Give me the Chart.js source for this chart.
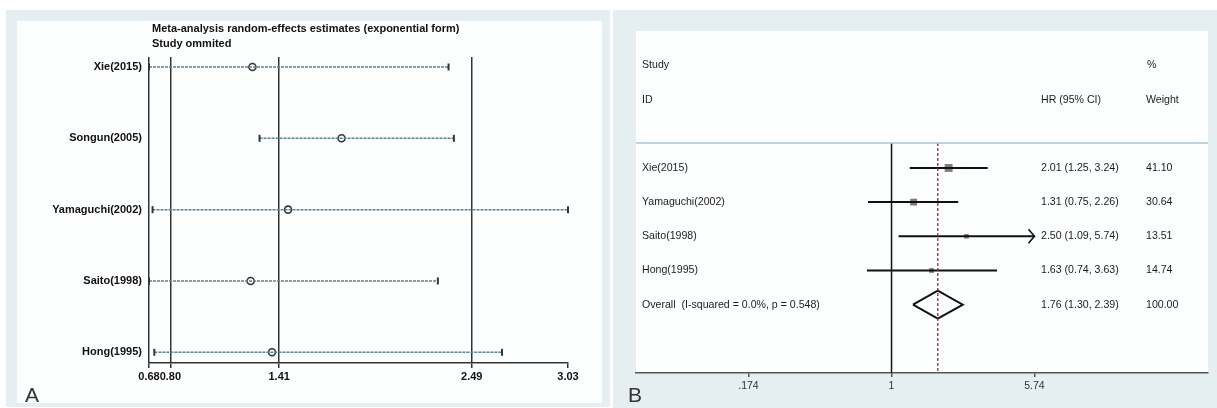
<!DOCTYPE html>
<html>
<head>
<meta charset="utf-8">
<script src="https://cdn.jsdelivr.net/npm/chart.js@4.4.0/dist/chart.umd.min.js"></script>
<style>
  html, body { margin: 0; padding: 0; background: #fff; }
  body { width: 1217px; height: 408px; position: relative; overflow: hidden; }
  .frame { position: absolute; background: #e5eff2; }
  .inner { position: absolute; background: #fdfefe; }
  canvas { position: absolute; top: 0; }
</style>
</head>
<body>
<div class="frame" style="left:6px;top:10px;width:604px;height:397px"></div>
<div class="inner" style="left:17px;top:21px;width:585px;height:382px"></div>
<div class="frame" style="left:613px;top:10px;width:604px;height:398px"></div>
<div class="inner" style="left:636px;top:31px;width:572px;height:342px"></div>
<canvas id="chartA" width="610" height="408" style="left:0"></canvas>
<canvas id="chartB" width="604" height="408" style="left:613px"></canvas>
<script>
// ---- panel A : leave-one-out (study omitted) ----
const omitStudies = ['Xie(2015)', 'Songun(2005)', 'Yamaguchi(2002)', 'Saito(1998)', 'Hong(1995)'];
const omitEst = [1.26, 1.76, 1.46, 1.25, 1.37];
const omitLow = [0.68, 1.30, 0.70, 0.68, 0.71];
const omitHigh = [2.36, 2.39, 3.03, 2.30, 2.66];
const omitTicks = [0.68, 0.80, 1.41, 2.49, 3.03];
const omitTitle = ['Meta-analysis random-effects estimates (exponential form)', 'Study ommited'];

// ---- panel B : forest plot ----
const studies = ['Xie(2015)', 'Yamaguchi(2002)', 'Saito(1998)', 'Hong(1995)'];
const hr = [2.01, 1.31, 2.50, 1.63];
const hrLow = [1.25, 0.75, 1.09, 0.74];
const hrHigh = [3.24, 2.26, 5.74, 3.63];
const weights = [41.10, 30.64, 13.51, 14.74];
const overallLabel = 'Overall  (I-squared = 0.0%, p = 0.548)';
const overallHR = 1.76;
const overallLow = 1.30;
const overallHigh = 2.39;
const forestTicks = [0.174, 1, 5.74];
const forestTickLabels = ['.174', '1', '5.74'];

const FONT = 'Arial, "Liberation Sans", sans-serif';
Chart.defaults.font.family = FONT;
Chart.defaults.color = '#111';

function fmt(v) { return v.toFixed(2); }

// ---------- chart A ----------
const dotColor = '#5f8193';
const dsA = [];
omitStudies.forEach((s, i) => {
  dsA.push({
    data: [{ x: omitLow[i], y: i + 1 }, { x: omitHigh[i], y: i + 1 }],
    showLine: true,
    borderColor: dotColor,
    borderWidth: 1.5,
    borderDash: [3, 1],
    pointStyle: 'line',
    rotation: 90,
    pointRadius: 3.5,
    pointBorderColor: '#333',
    pointBorderWidth: 2
  });
});
dsA.push({
  data: omitEst.map((v, i) => ({ x: v, y: i + 1 })),
  pointStyle: 'circle',
  pointRadius: 3.5,
  pointBorderWidth: 1.6,
  pointBorderColor: '#333',
  pointBackgroundColor: '#fff'
});

const titleA = {
  id: 'titleA',
  afterDraw(chart) {
    const c = chart.ctx;
    c.save();
    c.fillStyle = '#111';
    c.font = 'bold 11px ' + FONT;
    c.textBaseline = 'middle';
    c.fillText(omitTitle[0], chart.chartArea.left + 3, 29);
    c.fillText(omitTitle[1], chart.chartArea.left + 3, 44);
    c.fillStyle = '#333';
    c.font = '21px ' + FONT;
    c.textBaseline = 'alphabetic';
    c.fillText('A', 25, 402);
    c.restore();
  }
};

new Chart(document.getElementById('chartA'), {
  type: 'scatter',
  data: { datasets: dsA },
  options: {
    responsive: false,
    animation: false,
    clip: false,
    layout: { padding: { top: 57, right: 42, left: 0, bottom: 0 } },
    plugins: { legend: { display: false }, tooltip: { enabled: false } },
    scales: {
      x: {
        type: 'linear',
        min: omitTicks[0],
        max: omitTicks[omitTicks.length - 1],
        afterBuildTicks: s => { s.ticks = omitTicks.map(v => ({ value: v })); },
        afterFit: s => { s.height = 45; },
        border: { display: true, color: '#333', width: 1.5 },
        grid: {
          drawOnChartArea: true,
          color: ctx => (ctx.tick && ctx.tick.value === omitTicks[omitTicks.length - 1]) ? 'rgba(0,0,0,0)' : '#333',
          lineWidth: 1.5,
          tickLength: 5,
          tickColor: '#333'
        },
        ticks: {
          autoSkip: false,
          maxRotation: 0,
          padding: 2,
          font: { size: 11, weight: 'bold' },
          callback: v => fmt(v)
        }
      },
      y: {
        type: 'linear',
        reverse: true,
        min: 0.86,
        max: 5.15,
        afterBuildTicks: s => { s.ticks = omitStudies.map((_, i) => ({ value: i + 1 })); },
        afterFit: s => { s.width = 149; },
        border: { display: false },
        grid: { display: false, drawTicks: false },
        ticks: {
          padding: 7,
          font: { size: 11, weight: 'bold' },
          callback: v => omitStudies[v - 1]
        }
      }
    }
  },
  plugins: [titleA]
});

// ---------- chart B ----------
const yMinB = 0.27, yMaxB = 7.0;
const dsB = [];
// null line at 1
dsB.push({
  data: [{ x: 1, y: yMinB }, { x: 1, y: yMaxB }],
  showLine: true, borderColor: '#111', borderWidth: 1.5, pointRadius: 0
});
// overall dashed line
dsB.push({
  data: [{ x: overallHR, y: yMinB }, { x: overallHR, y: yMaxB }],
  showLine: true, borderColor: '#9b2b2b', borderWidth: 1.3, borderDash: [3, 2], pointRadius: 0
});
studies.forEach((s, i) => {
  dsB.push({
    data: [{ x: hrLow[i], y: i + 1 }, { x: hrHigh[i], y: i + 1 }],
    showLine: true, borderColor: '#111', borderWidth: 2, pointRadius: 0
  });
});
// weight boxes
dsB.push({
  data: hr.map((v, i) => ({ x: v, y: i + 1 })),
  pointStyle: 'rect',
  pointRadius: weights.map(w => 5.6 * Math.sqrt(w / weights[0])),
  pointBackgroundColor: '#7e7e7e',
  pointBorderWidth: 0
});
// point estimates
dsB.push({
  data: hr.map((v, i) => ({ x: v, y: i + 1 })),
  pointStyle: 'rect', pointRadius: 2, pointBackgroundColor: '#111', pointBorderWidth: 0
});
// overall diamond
const oRow = studies.length + 1;
dsB.push({
  data: [
    { x: overallLow, y: oRow }, { x: overallHR, y: oRow - 0.41 },
    { x: overallHigh, y: oRow }, { x: overallHR, y: oRow + 0.41 },
    { x: overallLow, y: oRow }
  ],
  showLine: true, borderColor: '#111', borderWidth: 2, pointRadius: 0, borderJoinStyle: 'miter'
});

const textB = {
  id: 'textB',
  afterDraw(chart) {
    const c = chart.ctx;
    const xs = chart.scales.x, ys = chart.scales.y;
    const a = chart.chartArea;
    c.save();
    // header rule
    c.strokeStyle = '#a9c4cf';
    c.lineWidth = 1.5;
    c.beginPath();
    c.moveTo(a.left, a.top);
    c.lineTo(a.right, a.top);
    c.stroke();

    c.fillStyle = '#1c1c1c';
    c.font = '10.6px ' + FONT;
    c.textBaseline = 'middle';
    const colL = 29, colHR = 428, colW = 533;
    c.fillText('Study', colL, ys.getPixelForValue(-2));
    c.fillText('ID', colL, ys.getPixelForValue(-1));
    c.fillText('HR (95% CI)', colHR, ys.getPixelForValue(-1));
    c.fillText('%', colW + 1, ys.getPixelForValue(-2));
    c.fillText('Weight', colW, ys.getPixelForValue(-1));
    studies.forEach((s, i) => {
      const y = ys.getPixelForValue(i + 1);
      c.fillText(s, colL, y);
      c.fillText(fmt(hr[i]) + ' (' + fmt(hrLow[i]) + ', ' + fmt(hrHigh[i]) + ')', colHR, y);
      c.fillText(fmt(weights[i]), colW, y);
    });
    const yo = ys.getPixelForValue(oRow);
    c.fillText(overallLabel, colL, yo);
    c.fillText(fmt(overallHR) + ' (' + fmt(overallLow) + ', ' + fmt(overallHigh) + ')', colHR, yo);
    c.fillText('100.00', colW, yo);

    // arrow for CI reaching axis limit
    const lim = forestTicks[forestTicks.length - 1];
    c.strokeStyle = '#111';
    c.lineWidth = 1.6;
    hrHigh.forEach((v, i) => {
      if (v >= lim) {
        const x = xs.getPixelForValue(lim), y = ys.getPixelForValue(i + 1);
        c.beginPath();
        c.moveTo(x - 6, y - 7);
        c.lineTo(x, y);
        c.lineTo(x - 6, y + 7);
        c.stroke();
      }
    });

    c.fillStyle = '#333';
    c.font = '21px ' + FONT;
    c.textBaseline = 'alphabetic';
    c.fillText('B', 15, 402);
    c.restore();
  }
};

new Chart(document.getElementById('chartB'), {
  type: 'scatter',
  data: { datasets: dsB },
  options: {
    responsive: false,
    animation: false,
    clip: false,
    layout: { padding: { top: 143, right: 9, left: 23, bottom: 0 } },
    plugins: { legend: { display: false }, tooltip: { enabled: false } },
    scales: {
      x: {
        type: 'logarithmic',
        min: 0.04398,
        max: 47.9,
        afterBuildTicks: s => { s.ticks = forestTicks.map(v => ({ value: v })); },
        afterFit: s => { s.height = 35; },
        border: { display: true, color: '#555', width: 1.5 },
        grid: { drawOnChartArea: false, tickLength: 4, tickColor: '#555', lineWidth: 1.5 },
        ticks: {
          autoSkip: false,
          maxRotation: 0,
          padding: 3,
          color: '#333',
          font: { size: 10.5 },
          callback: (v, i) => forestTickLabels[i]
        }
      },
      y: {
        type: 'linear',
        display: false,
        reverse: true,
        min: yMinB,
        max: yMaxB
      }
    }
  },
  plugins: [textB]
});
</script>
</body>
</html>
